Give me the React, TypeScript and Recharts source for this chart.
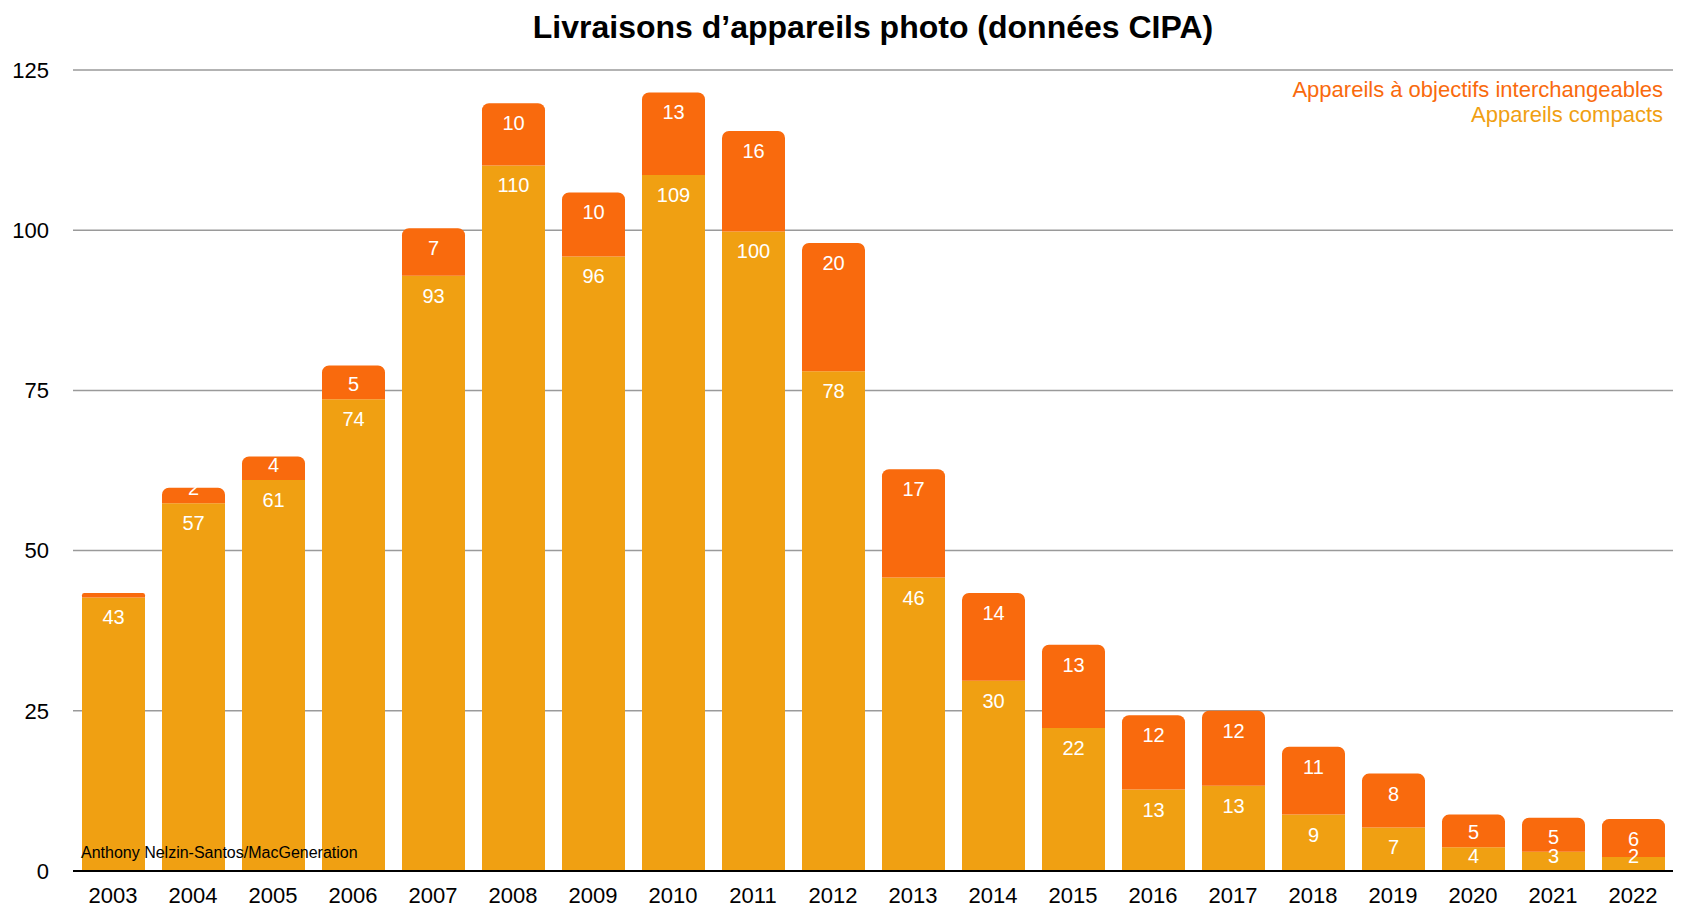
import React from 'react';
import { BarChart, Bar, XAxis, YAxis, CartesianGrid, LabelList } from 'recharts';

const years = ['2003', '2004', '2005', '2006', '2007', '2008', '2009', '2010', '2011', '2012',
  '2013', '2014', '2015', '2016', '2017', '2018', '2019', '2020', '2021', '2022'];
const compacts = [42.7, 57.4, 61.0, 73.6, 92.9, 110.1, 95.9, 108.6, 99.8, 78.0,
  45.8, 29.7, 22.3, 12.7, 13.3, 8.8, 6.8, 3.7, 3.0, 2.2];
const interchangeables = [0.7, 2.4, 3.7, 5.3, 7.4, 9.7, 10.0, 12.9, 15.7, 20.0,
  16.9, 13.7, 13.0, 11.6, 11.7, 10.6, 8.4, 5.1, 5.3, 5.9];
const yTicks = [0, 25, 50, 75, 100, 125];

const ORANGE = '#f96a0d';
const YELLOW = '#f0a012';
const FONT = '"Liberation Sans", Arial, Helvetica, sans-serif';

const data = years.map((year, i) => ({
  year,
  compacts: compacts[i],
  interchangeables: interchangeables[i],
}));

// label near top of the segment, pushed up when the segment is too short
const renderLabel = (props: any) => {
  const { x, y, width, height, value } = props;
  if (value == null) return null;
  const top = Number(y);
  const bottom = top + Number(height);
  const cy = Math.min(top + 20, bottom - 15);
  return (
    <text
      x={Number(x) + Number(width) / 2}
      y={cy}
      fill="#fff"
      fontSize={20}
      fontFamily={FONT}
      textAnchor="middle"
      dominantBaseline="central"
    >
      {Math.round(Number(value))}
    </text>
  );
};

const App: React.FC = () => {
  return (
    <div style={{ position: 'absolute', left: 0, top: 0, width: 1696, height: 918, fontFamily: FONT, background: '#fff' }}>
      <BarChart
        width={1696}
        height={918}
        data={data}
        barSize={63}
        margin={{ top: 70, right: 23, left: 13, bottom: 7 }}
      >
        <CartesianGrid vertical={false} stroke="#9a9a9a" strokeWidth={1.5} />
        <XAxis
          dataKey="year"
          interval={0}
          height={40}
          tickLine={false}
          tickSize={0}
          tickMargin={16}
          axisLine={{ stroke: '#000', strokeWidth: 2 }}
          tick={{ fill: '#000', fontSize: 22, fontFamily: FONT }}
        />
        <YAxis
          domain={[0, 125]}
          ticks={yTicks}
          width={60}
          axisLine={false}
          tickLine={false}
          tickSize={0}
          tickMargin={24}
          tick={{ fill: '#000', fontSize: 22, fontFamily: FONT }}
        />
        <Bar dataKey="compacts" stackId="a" fill={YELLOW} isAnimationActive={false}>
          <LabelList dataKey="compacts" content={renderLabel} />
        </Bar>
        <Bar dataKey="interchangeables" stackId="a" fill={ORANGE} radius={[7, 7, 0, 0]} isAnimationActive={false}>
          <LabelList dataKey="interchangeables" content={renderLabel} />
        </Bar>
      </BarChart>

      <div style={{ position: 'absolute', left: 73, width: 1600, top: 11, textAlign: 'center', fontSize: 32, lineHeight: '32px', fontWeight: 'bold', color: '#000' }}>
        Livraisons d’appareils photo (données CIPA)
      </div>

      <div style={{ position: 'absolute', right: 33, top: 77, textAlign: 'right', fontSize: 22, lineHeight: '25px' }}>
        <div style={{ color: ORANGE }}>Appareils à objectifs interchangeables</div>
        <div style={{ color: YELLOW }}>Appareils compacts</div>
      </div>

      <div style={{ position: 'absolute', left: 81, top: 845, fontSize: 16, lineHeight: '16px', color: '#000' }}>
        Anthony Nelzin-Santos/MacGeneration
      </div>
    </div>
  );
};

export default App;
